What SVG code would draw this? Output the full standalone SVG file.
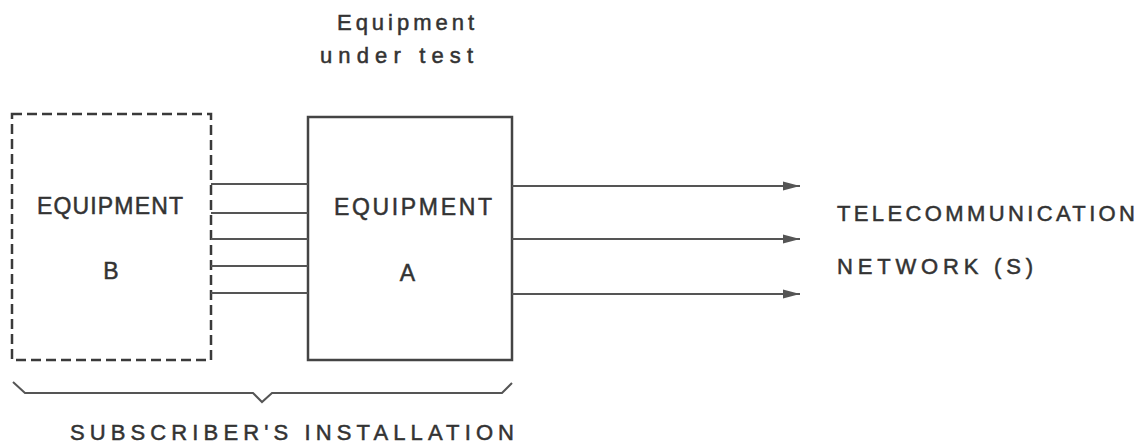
<svg xmlns="http://www.w3.org/2000/svg" width="1141" height="443" viewBox="0 0 1141 443">
<style>
  .t { font-family: "Liberation Sans", "DejaVu Sans", sans-serif; fill: #333; stroke: #333; stroke-width: 0.5; }
  .box { fill: none; stroke: #444; stroke-width: 2.5; }
  .dash { fill: none; stroke: #3a3a3a; stroke-width: 2.5; stroke-dasharray: 10 5; }
  .ln { fill: none; stroke: #555; stroke-width: 2; }
</style>
<defs>
  <marker id="arr" markerUnits="userSpaceOnUse" markerWidth="18" markerHeight="10" refX="17" refY="5" orient="auto">
    <path d="M0,0.5 L17,5 L0,9.5 Z" fill="#555"/>
  </marker>
</defs>
<rect width="1141" height="443" fill="#fff"/>

<g id="label-eut">
  <text class="t" x="337" y="30" font-size="22" textLength="137" lengthAdjust="spacing">Equipment</text>
  <text class="t" x="320" y="63" font-size="22" textLength="153" lengthAdjust="spacing">under   test</text>
</g>

<g id="equipment-b">
  <rect class="dash" x="12" y="114" width="199" height="246"/>
  <text class="t" x="37" y="214" font-size="23" textLength="146" lengthAdjust="spacing">EQUIPMENT</text>
  <text class="t" x="111" y="279" font-size="23" text-anchor="middle">B</text>
</g>

<g id="equipment-a">
  <rect class="box" x="308" y="117" width="204" height="243"/>
  <text class="t" x="334" y="215" font-size="23" textLength="158" lengthAdjust="spacing">EQUIPMENT</text>
  <text class="t" x="407.5" y="281" font-size="23" text-anchor="middle">A</text>
</g>

<g id="network">
  <text class="t" x="837" y="221" font-size="22" textLength="298" lengthAdjust="spacing">TELECOMMUNICATION</text>
  <text class="t" x="837" y="274" font-size="22" textLength="196" lengthAdjust="spacing">NETWORK (S)</text>
</g>

<g id="connectors">
  <line class="ln" x1="211" y1="184" x2="308" y2="184"/>
  <line class="ln" x1="211" y1="213" x2="308" y2="213"/>
  <line class="ln" x1="211" y1="239" x2="308" y2="239"/>
  <line class="ln" x1="211" y1="266" x2="308" y2="266"/>
  <line class="ln" x1="211" y1="293" x2="308" y2="293"/>
  <line class="ln" x1="512" y1="186" x2="800" y2="186" marker-end="url(#arr)"/>
  <line class="ln" x1="512" y1="239" x2="800" y2="239" marker-end="url(#arr)"/>
  <line class="ln" x1="512" y1="294" x2="800" y2="294" marker-end="url(#arr)"/>
</g>

<g id="subscriber-installation">
  <path class="ln" d="M13,382 L25,393 L253,393 L262,402 L272,393 L502,393 L512,383"/>
  <text class="t" x="70" y="440" font-size="22" textLength="444" lengthAdjust="spacing">SUBSCRIBER'S  INSTALLATION</text>
</g>
</svg>
